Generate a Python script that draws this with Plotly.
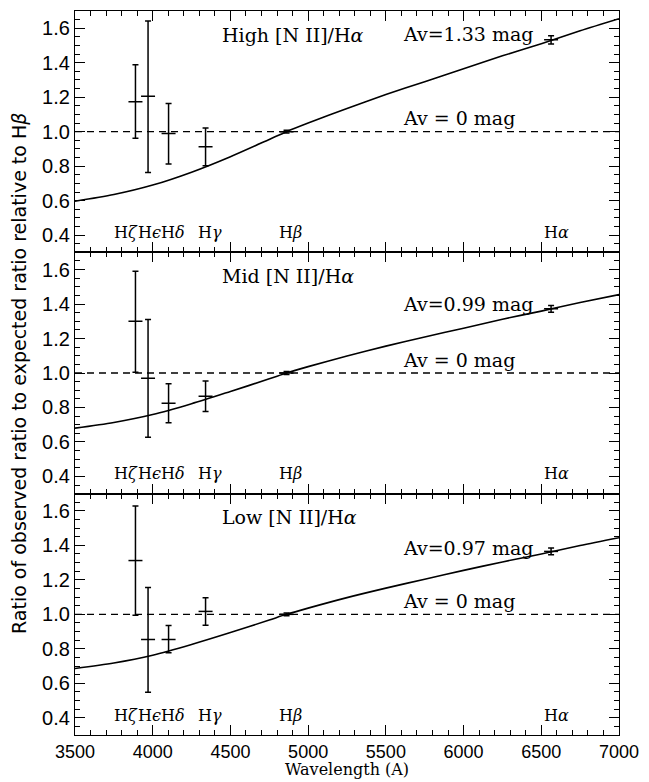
import plotly.graph_objects as go
from plotly.subplots import make_subplots

# ---------------- data ----------------
line_labels = ["H<i>ζ</i>", "H<i>ϵ</i>", "H<i>δ</i>", "H<i>γ</i>", "H<i>β</i>", "H<i>α</i>"]
line_wl = [3889, 3970, 4102, 4340, 4861, 6563]
label_wl = [3825, 3980, 4132, 4367, 4887, 6595]

panel_names = ["High", "Mid", "Low"]
av_labels = ["1.33", "0.99", "0.97"]

high_ratio = [1.173, 1.206, 0.990, 0.912, 1.000, 1.533]
high_upper = [1.388, 1.642, 1.163, 1.021, 1.008, 1.556]
high_lower = [0.962, 0.763, 0.813, 0.802, 0.992, 1.508]

mid_ratio = [1.300, 0.969, 0.825, 0.865, 1.000, 1.373]
mid_upper = [1.590, 1.310, 0.937, 0.954, 1.008, 1.392]
mid_lower = [1.004, 0.627, 0.712, 0.777, 0.992, 1.352]

low_ratio = [1.312, 0.854, 0.854, 1.017, 1.000, 1.365]
low_upper = [1.629, 1.156, 0.935, 1.096, 1.008, 1.385]
low_lower = [0.994, 0.548, 0.777, 0.937, 0.992, 1.346]

curve_wl = [3500, 3750, 4000, 4250, 4500, 4750, 4861, 5000, 5250, 5500,
            5750, 6000, 6250, 6500, 6750, 7000]
high_curve = [0.596, 0.635, 0.690, 0.765, 0.855, 0.955, 1.000, 1.050, 1.135, 1.215,
              1.290, 1.365, 1.440, 1.510, 1.585, 1.655]
mid_curve = [0.680, 0.713, 0.759, 0.822, 0.893, 0.966, 1.000, 1.037, 1.099, 1.156,
             1.209, 1.260, 1.312, 1.359, 1.409, 1.455]
low_curve = [0.686, 0.718, 0.763, 0.825, 0.894, 0.967, 1.000, 1.036, 1.097, 1.152,
             1.204, 1.255, 1.304, 1.350, 1.399, 1.444]

ratios = [high_ratio, mid_ratio, low_ratio]
uppers = [high_upper, mid_upper, low_upper]
lowers = [high_lower, mid_lower, low_lower]
curves = [high_curve, mid_curve, low_curve]

x_range = [3500, 7000]
y_range = [0.3, 1.7]

# ---------------- figure ----------------
fig = make_subplots(rows=3, cols=1, shared_xaxes=True, vertical_spacing=0)

serif = "DejaVu Serif"
sans = "Liberation Sans"
ann_font = dict(family=serif, size=19, color="black")
lab_font = dict(family=serif, size=16, color="black")

av_y = [1.566, 1.40, 1.386]

for i in range(3):
    row = i + 1
    fig.add_trace(go.Scatter(x=x_range, y=[1, 1], mode="lines",
                             line=dict(color="black", width=1.3, dash="7px,5px"),
                             showlegend=False, hoverinfo="skip"), row=row, col=1)
    fig.add_trace(go.Scatter(x=curve_wl, y=curves[i], mode="lines",
                             line=dict(color="black", width=1.6, shape="spline", smoothing=0.8),
                             showlegend=False), row=row, col=1)
    err_hi = [u - r for u, r in zip(uppers[i], ratios[i])]
    err_lo = [r - l for r, l in zip(ratios[i], lowers[i])]
    fig.add_trace(go.Scatter(x=line_wl, y=ratios[i], mode="markers",
                             marker=dict(symbol="line-ew", size=10,
                                         line=dict(color="black", width=1.5)),
                             error_y=dict(type="data", symmetric=False, array=err_hi,
                                          arrayminus=err_lo, color="black",
                                          thickness=1.5, width=3),
                             showlegend=False), row=row, col=1)

    xref = "x" if row == 1 else f"x{row}"
    yref = "y" if row == 1 else f"y{row}"
    fig.add_annotation(x=4431, y=1.562, xref=xref, yref=yref, xanchor="left",
                       yanchor="middle", showarrow=False, font=ann_font,
                       text=f"{panel_names[i]} [N II]/H<i>α</i>")
    fig.add_annotation(x=5597, y=av_y[i], xref=xref, yref=yref, xanchor="left",
                       yanchor="middle", showarrow=False, font=ann_font,
                       text=f"Av={av_labels[i]} mag")
    fig.add_annotation(x=5597, y=1.078, xref=xref, yref=yref, xanchor="left",
                       yanchor="middle", showarrow=False, font=ann_font,
                       text="Av = 0 mag")
    for lab, lw in zip(line_labels, label_wl):
        fig.add_annotation(x=lw, y=0.415, xref=xref, yref=yref, xanchor="center",
                           yanchor="middle", showarrow=False, font=lab_font, text=lab)

    fig.update_xaxes(range=x_range, showline=True, linecolor="black", linewidth=1.2,
                     mirror="ticks", ticks="inside", ticklen=10, tickwidth=1.2,
                     tickcolor="black", dtick=500, tick0=3500,
                     minor=dict(ticks="inside", ticklen=5, dtick=100, tickwidth=1.2,
                                tickcolor="black"),
                     showgrid=False, zeroline=False,
                     tickfont=dict(family=sans, size=18, color="black"),
                     row=row, col=1)
    fig.update_yaxes(range=y_range, showline=True, linecolor="black", linewidth=1.2,
                     mirror="ticks", ticks="inside", ticklen=10, tickwidth=1.2,
                     tickcolor="black", dtick=0.2, tick0=0, tickformat=".1f",
                     minor=dict(ticks="inside", ticklen=5, dtick=0.05, tickwidth=1.2,
                                tickcolor="black"),
                     showgrid=False, zeroline=False,
                     tickfont=dict(family=sans, size=20, color="black"),
                     row=row, col=1)

fig.add_annotation(x=0.5, y=-0.0475, xref="paper", yref="paper", xanchor="center",
                   yanchor="middle", showarrow=False,
                   font=dict(family=serif, size=16, color="black"),
                   text="Wavelength (A)")
fig.add_annotation(x=-0.103, y=0.5, xref="paper", yref="paper", xanchor="center",
                   yanchor="middle", showarrow=False, textangle=-90,
                   font=dict(family="DejaVu Sans", size=19, color="black"),
                   text="Ratio of observed ratio to expected ratio relative to H<i>β</i>")

fig.update_layout(width=649, height=782, margin=dict(l=75, r=25, t=10, b=47),
                  paper_bgcolor="white", plot_bgcolor="white", showlegend=False)

fig.write_html("out.html")
